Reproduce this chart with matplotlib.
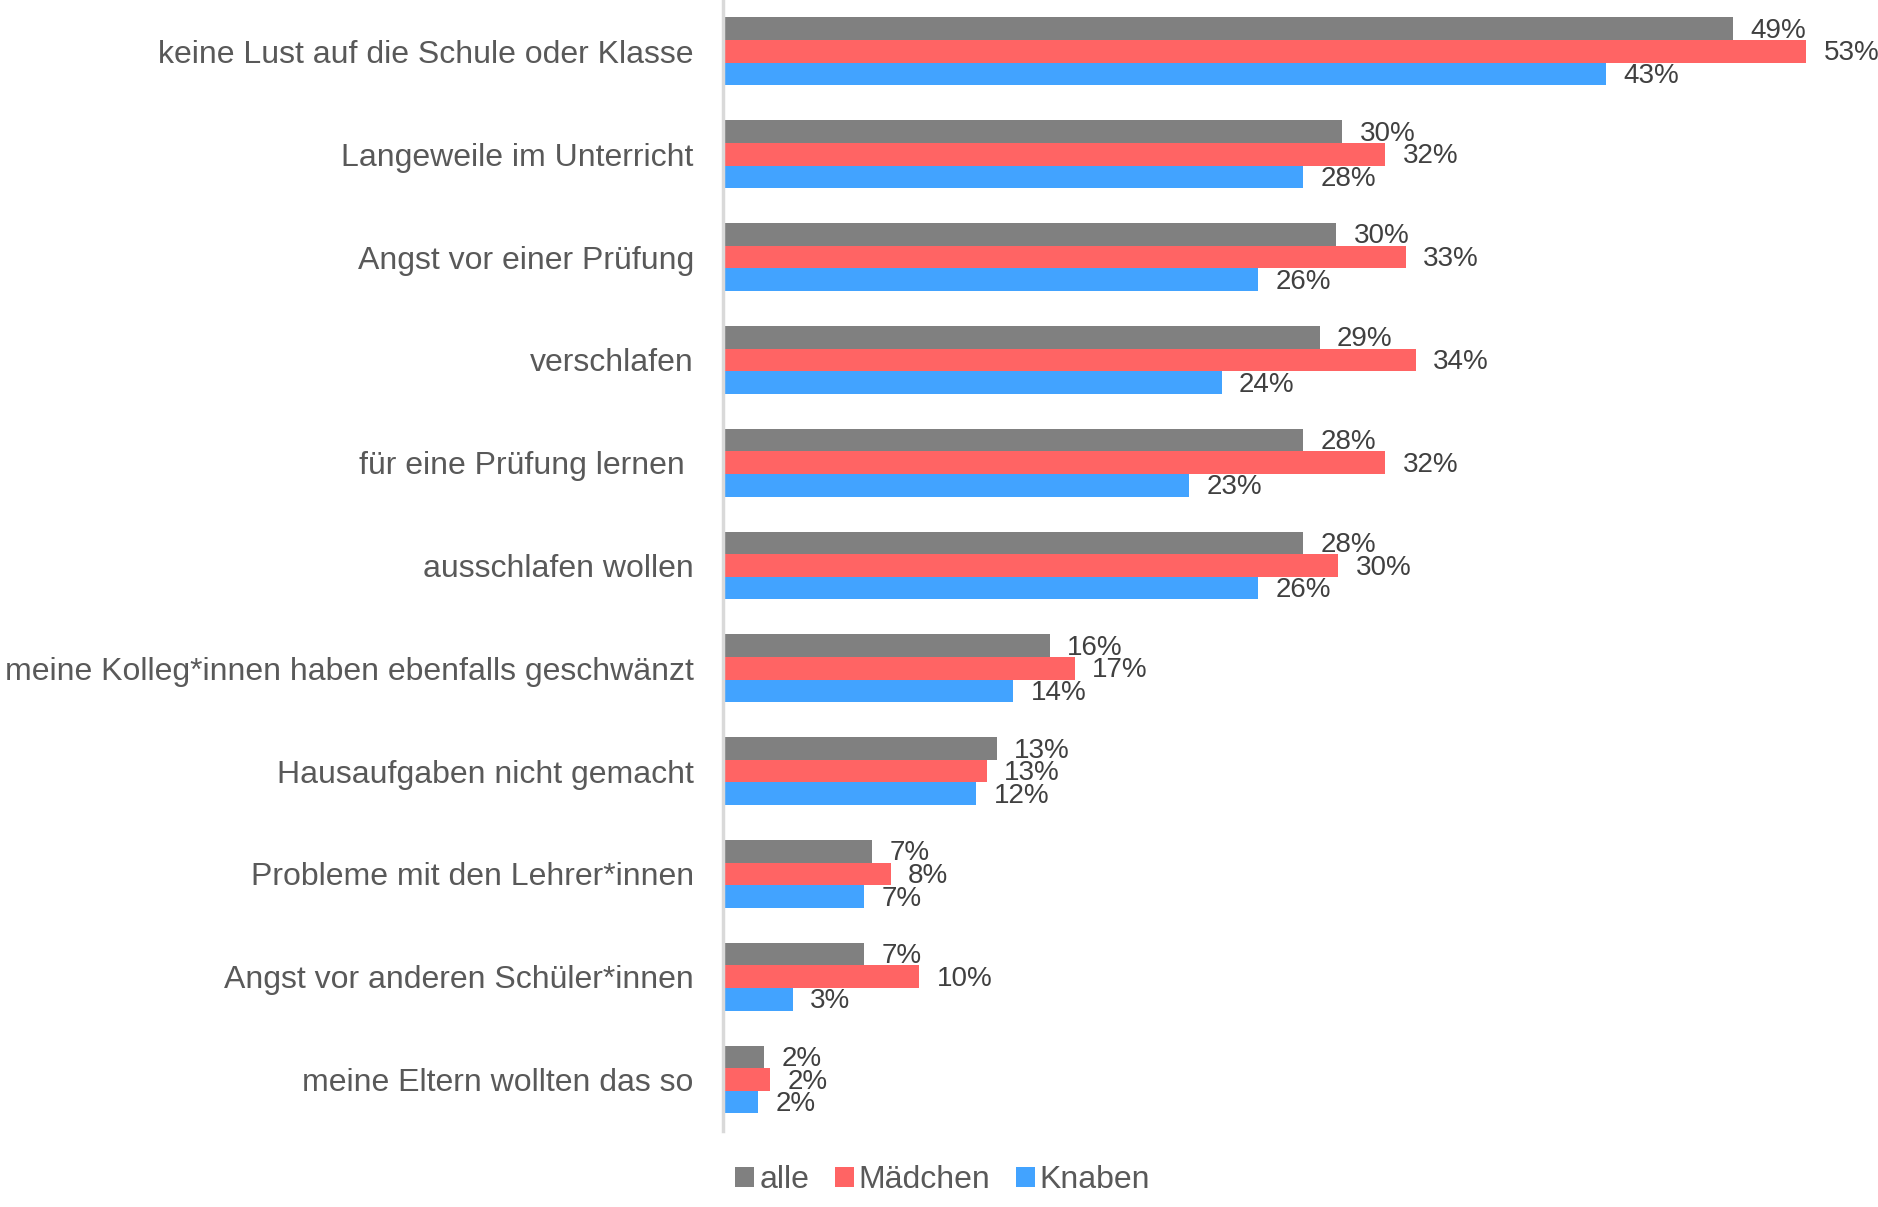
import numpy as np
import matplotlib
matplotlib.use('Agg')
import matplotlib.pyplot as plt

# Gruende fuers Schwaenzen, Anteil in Prozent
gruende = ['keine Lust auf die Schule oder Klasse',
           'Langeweile im Unterricht',
           'Angst vor einer Prüfung',
           'verschlafen',
           'für eine Prüfung lernen ',
           'ausschlafen wollen',
           'meine Kolleg*innen haben ebenfalls geschwänzt',
           'Hausaufgaben nicht gemacht',
           'Probleme mit den Lehrer*innen',
           'Angst vor anderen Schüler*innen',
           'meine Eltern wollten das so']
alle = [49.4, 30.3, 30.0, 29.2, 28.4, 28.4, 16.0, 13.4, 7.3, 6.9, 2.0]
maedchen = [53.0, 32.4, 33.4, 33.9, 32.4, 30.1, 17.2, 12.9, 8.2, 9.6, 2.3]
knaben = [43.2, 28.4, 26.2, 24.4, 22.8, 26.2, 14.2, 12.4, 6.9, 3.4, 1.7]

serien = ['alle', 'Mädchen', 'Knaben']
farben = ['#808080', '#FF6464', '#42A3FF']

plt.rcParams['font.family'] = ['Liberation Sans', 'DejaVu Sans']

fig = plt.figure(figsize=(18.78, 12.07), dpi=100)
ax = fig.add_axes([0.385, 0.063, 0.605, 0.937])

y = np.arange(len(gruende))
h = 0.22
for i, (werte, name, farbe) in enumerate(zip([alle, maedchen, knaben], serien, farben)):
  pos = y + (i - 1) * h
  ax.barh(pos, werte, height=h, color=farbe, label=name)
  for p, w in zip(pos, werte):
    ax.text(w + 0.85, p + 0.02, f'{w:.0f}%', va='center', ha='left',
            fontsize=20, color='#404040')

ax.set_ylim(len(gruende) - 0.5, -0.5)
ax.set_xlim(0, 55.6)
ax.set_yticks(y)
ax.set_yticklabels(gruende, fontsize=23, color='#595959')
ax.tick_params(axis='y', length=0, pad=21)
ax.set_xticks([])
for s in ['top', 'right', 'bottom']:
  ax.spines[s].set_visible(False)
ax.spines['left'].set_color('#D9D9D9')
ax.spines['left'].set_linewidth(2.5)

fig.legend(loc='lower center', bbox_to_anchor=(0.502, -0.014), ncol=3, frameon=False,
           fontsize=23, handlelength=0.6, handleheight=0.6, handletextpad=0.15,
           columnspacing=0.8, labelcolor='#595959')

fig.savefig('out.png', dpi=100)
